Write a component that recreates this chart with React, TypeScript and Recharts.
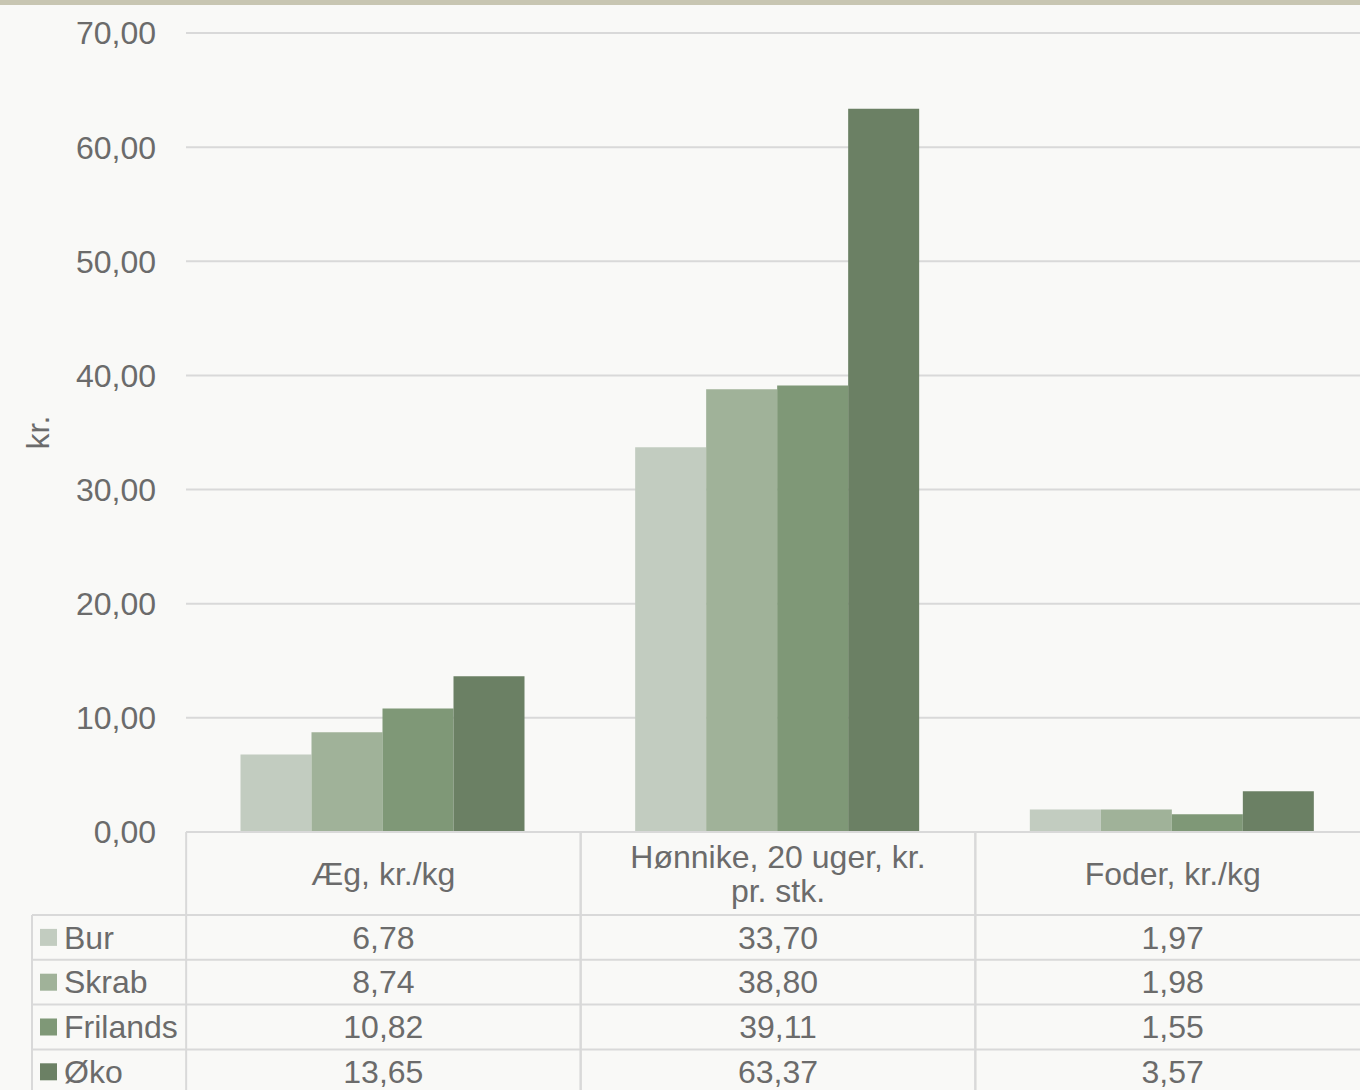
import React from 'react';
import { BarChart, Bar, XAxis, YAxis, CartesianGrid } from 'recharts';

const categories = ['Æg, kr./kg', 'Hønnike, 20 uger, kr. pr. stk.', 'Foder, kr./kg'];
const categoryLines = [['Æg, kr./kg'], ['Hønnike, 20 uger, kr.', 'pr. stk.'], ['Foder, kr./kg']];
const seriesNames = ['Bur', 'Skrab', 'Frilands', 'Øko'];
const bur = [6.78, 33.7, 1.97];
const skrab = [8.74, 38.8, 1.98];
const frilands = [10.82, 39.11, 1.55];
const oko = [13.65, 63.37, 3.57];
const yTicks = [0, 10, 20, 30, 40, 50, 60, 70];

const seriesValues = [bur, skrab, frilands, oko];
const colors = ['#C2CCC0', '#A0B299', '#7F9877', '#6B8064'];
const keys = ['bur', 'skrab', 'frilands', 'oko'];

const chartData = categories.map((name, i) => ({
  name,
  bur: bur[i],
  skrab: skrab[i],
  frilands: frilands[i],
  oko: oko[i],
}));

const TEXT = '#6B6B6B';
const LINE = '#D9D9D9';
const FONT = 32;
const fmt = (v: number) => v.toFixed(2).replace('.', ',');

// table layout, relative to the x axis line
const HALF_BAND = 197.2;
const HEADER_H = 83;
const ROW_H = 44.8;
const LEGEND_LEFT = 32;

const TableColumn = (props: any) => {
  const { x, y, index } = props;
  const rowTop = (r: number) => y + HEADER_H + r * ROW_H;
  const lines = categoryLines[index];
  const left = x - HALF_BAND;
  const right = x + HALF_BAND;
  return (
    <g>
      <line x1={left} x2={left} y1={y} y2={y + 300} stroke={LINE} strokeWidth={2} />
      <line x1={right} x2={right} y1={y} y2={y + 300} stroke={LINE} strokeWidth={2} />
      {lines.map((t, li) => (
        <text
          key={li}
          x={x}
          y={y + HEADER_H / 2 + (li - (lines.length - 1) / 2) * 34}
          dy="0.35em"
          textAnchor="middle"
          fill={TEXT}
          fontSize={FONT}
        >
          {t}
        </text>
      ))}
      {seriesValues.map((vals, r) => (
        <g key={r}>
          <line x1={index === 0 ? LEGEND_LEFT : left} x2={right} y1={rowTop(r)} y2={rowTop(r)} stroke={LINE} strokeWidth={2} />
          <text x={x} y={rowTop(r) + ROW_H / 2} dy="0.35em" textAnchor="middle" fill={TEXT} fontSize={FONT}>
            {fmt(vals[index])}
          </text>
          {index === 0 && (
            <g>
              <rect x={LEGEND_LEFT + 8} y={rowTop(r) + ROW_H / 2 - 8.5} width={17} height={17} fill={colors[r]} />
              <text x={LEGEND_LEFT + 32} y={rowTop(r) + ROW_H / 2} dy="0.35em" fill={TEXT} fontSize={FONT}>
                {seriesNames[r]}
              </text>
            </g>
          )}
        </g>
      ))}
      {index === 0 && (
        <line x1={LEGEND_LEFT} x2={LEGEND_LEFT} y1={rowTop(0)} y2={y + 300} stroke={LINE} strokeWidth={2} />
      )}
    </g>
  );
};

const YLabel = (props: any) => {
  const vb = props.viewBox;
  const cx = 38;
  const cy = vb.y + vb.height / 2;
  return (
    <text x={cx} y={cy} dy="0.35em" textAnchor="middle" fill={TEXT} fontSize={FONT} transform={`rotate(-90 ${cx} ${cy})`}>
      kr.
    </text>
  );
};

export default function App() {
  return (
    <div
      style={{
        position: 'absolute',
        left: 0,
        top: 0,
        width: 1360,
        height: 1090,
        overflow: 'hidden',
        background: '#F9F9F7',
        fontFamily: '"Liberation Sans", Arial, sans-serif',
      }}
    >
      <BarChart
        width={1380}
        height={1100}
        data={chartData}
        margin={{ top: 33, right: 10, left: 36, bottom: 10 }}
        barCategoryGap={54.5}
        barGap={0}
      >
        <CartesianGrid vertical={false} stroke={LINE} strokeWidth={2} />
        <XAxis
          dataKey="name"
          height={258}
          tickLine={false}
          tickSize={0}
          tickMargin={0}
          axisLine={{ stroke: LINE, strokeWidth: 2 }}
          tick={<TableColumn />}
          interval={0}
        />
        <YAxis
          width={150}
          domain={[0, 70]}
          ticks={yTicks}
          tickFormatter={fmt}
          axisLine={false}
          tickLine={false}
          tickSize={0}
          tickMargin={30}
          tick={{ fill: TEXT, fontSize: FONT }}
          label={<YLabel />}
        />
        {keys.map((k, i) => (
          <Bar key={k} dataKey={k} fill={colors[i]} isAnimationActive={false} />
        ))}
      </BarChart>
      <div style={{ position: 'absolute', left: 0, top: 0, width: 1360, height: 5, background: '#C8C6B2' }} />
    </div>
  );
}
